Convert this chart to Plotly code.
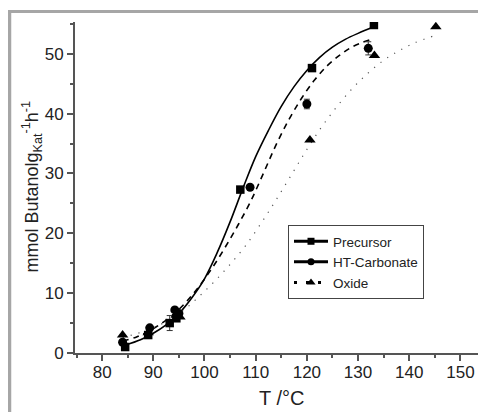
import plotly.graph_objects as go

# ---- data ----
prec_T = [84.5, 89.0, 93.2, 94.5, 107.0, 121.0, 133.1]
prec_y = [1.0, 3.0, 5.0, 5.8, 27.3, 47.6, 54.8]
prec_err = [0.3, 0.3, 1.25, 0.3, 0.4, 0.4, 0.3]

htc_T = [84.0, 89.3, 94.2, 95.0, 108.9, 120.0, 132.0]
htc_y = [1.8, 4.2, 7.2, 6.6, 27.7, 41.6, 50.9]
htc_err = [0.3, 0.3, 0.3, 0.3, 0.3, 0.8, 1.1]

oxi_T = [84.0, 89.0, 94.5, 95.2, 120.6, 133.2, 145.2]
oxi_y = [3.0, 3.4, 6.3, 6.0, 35.6, 49.7, 54.5]

fit_prec_T = [84.5, 87.5, 90, 92.5, 95, 97.5, 100, 102.5, 105, 107.5, 110, 112.5, 115, 117.5, 120, 122.5, 125, 127.5, 130, 133.1]
fit_prec_y = [1.3, 2.2, 3.3, 4.7, 6.6, 9.2, 12.4, 16.8, 21.9, 27.5, 32.8, 37.2, 41.2, 44.5, 47.2, 49.4, 51.1, 52.4, 53.4, 54.5]

fit_htc_T = [84, 86.5, 89, 91.5, 94, 96.5, 99, 101.5, 104, 106.5, 109, 111.5, 114, 116.5, 119, 121.5, 124, 126.5, 129, 132.2]
fit_htc_y = [2.0, 2.6, 3.6, 4.9, 6.5, 8.6, 11.2, 14.2, 17.6, 21.3, 25.3, 30.0, 34.8, 39.0, 42.6, 45.6, 48.0, 49.8, 51.2, 52.3]

fit_oxi_T = [84, 87, 90, 93, 96, 99, 102, 105, 108, 111, 114, 117, 120, 123, 126, 129, 132, 135, 138, 141, 144.9]
fit_oxi_y = [2.6, 3.3, 4.2, 5.5, 7.2, 9.5, 12.0, 14.8, 17.9, 21.6, 25.6, 29.8, 34.0, 37.9, 41.3, 44.3, 46.8, 48.9, 50.5, 51.8, 53.0]

x_ticks = [80, 90, 100, 110, 120, 130, 140, 150]
y_ticks = [0, 10, 20, 30, 40, 50]
names = ["Precursor", "HT-Carbonate", "Oxide"]

FONT = "Arial, Liberation Sans, sans-serif"

# page has an 8px body margin; figure is sized to fit the 486x412 window
W, H = 478, 404
ML, MT, MB = 67, 14, 59
PL, PT = 8 + ML, 8 + MT          # plot-area top-left in page pixels
PW, PH = 486 - PL, (8 + H - MB) - PT

def px_x(p):
    return (p - PL) / PW

def px_y(p):
    return (PT + PH - p) / PH

fig = go.Figure()

# fit curves
fig.add_trace(go.Scatter(x=fit_prec_T, y=fit_prec_y, mode="lines", line=dict(color="black", width=1.6, shape="spline"),
                         showlegend=False, hoverinfo="skip"))
fig.add_trace(go.Scatter(x=fit_htc_T, y=fit_htc_y, mode="lines", line=dict(color="black", width=1.6, dash="6px,5px", shape="spline"),
                         showlegend=False, hoverinfo="skip"))
fig.add_trace(go.Scatter(x=fit_oxi_T, y=fit_oxi_y, mode="lines", line=dict(color="#555", width=1.2, dash="1.2px,7px", shape="spline"),
                         showlegend=False, hoverinfo="skip"))

# data markers
fig.add_trace(go.Scatter(x=oxi_T, y=oxi_y, mode="markers", marker=dict(symbol="triangle-up", size=10, color="black"),
                         showlegend=False))
fig.add_trace(go.Scatter(x=htc_T, y=htc_y, mode="markers", marker=dict(symbol="circle", size=9, color="black"),
                         error_y=dict(type="data", array=htc_err, color="#333", thickness=1, width=3),
                         showlegend=False))
fig.add_trace(go.Scatter(x=prec_T, y=prec_y, mode="markers", marker=dict(symbol="square", size=8.5, color="black"),
                         error_y=dict(type="data", array=prec_err, color="#333", thickness=1, width=3),
                         showlegend=False))

# legend entries
fig.add_trace(go.Scatter(x=[None], y=[None], name=names[0], mode="lines+markers",
                         line=dict(color="black", width=3), marker=dict(symbol="square", size=7, color="black")))
fig.add_trace(go.Scatter(x=[None], y=[None], name=names[1], mode="lines+markers",
                         line=dict(color="black", width=3), marker=dict(symbol="circle", size=7, color="black")))
fig.add_trace(go.Scatter(x=[None], y=[None], name=names[2], mode="lines+markers",
                         line=dict(color="black", width=3, dash="3px,9px"), marker=dict(symbol="triangle-up", size=8, color="black")))

axis_common = dict(
    showline=True, linecolor="#555", linewidth=2, showgrid=False, zeroline=False,
    ticks="outside", ticklen=6, tickwidth=1.5, tickcolor="#555",
    tickfont=dict(family=FONT, size=17, color="#222"),
    minor=dict(ticks="outside", ticklen=3, tickwidth=1.5, tickcolor="#555", showgrid=False),
)

fig.update_xaxes(range=[74.7, 155], tickvals=x_ticks, minor_dtick=5, ticklabelstandoff=-3, **axis_common)
fig.update_yaxes(range=[0, 55.3], tickvals=y_ticks, minor_dtick=5, **axis_common)

fig.update_layout(
    width=W, height=H,
    margin=dict(l=ML, r=0, t=MT, b=MB),
    paper_bgcolor="white", plot_bgcolor="white",
    font=dict(family=FONT, color="#222"),
    legend=dict(x=px_x(288), y=px_y(225), xanchor="left", yanchor="top",
                bordercolor="#444", borderwidth=1, bgcolor="white",
                font=dict(family=FONT, size=13.5, color="#222"),
                tracegroupgap=0, itemwidth=34),
    annotations=[
        dict(text="mmol Butanolg<sub>Kat</sub><sup>-1</sup>h<sup>-1</sup>", textangle=-90,
             xref="paper", yref="paper", x=px_x(32), y=0.5, xanchor="center", yanchor="middle",
             showarrow=False, font=dict(family=FONT, size=18, color="#222")),
        dict(text="T /°C", xref="paper", yref="paper", x=px_x(281), y=px_y(398),
             xanchor="center", yanchor="middle", showarrow=False,
             font=dict(family=FONT, size=20, color="#222")),
    ],
    shapes=[
        dict(type="line", xref="paper", yref="paper", x0=px_x(8), x1=1.05,
             y0=px_y(11.5), y1=px_y(11.5), line=dict(color="#a6a6a6", width=3)),
        dict(type="line", xref="paper", yref="paper", x0=px_x(9.5), x1=px_x(9.5),
             y0=px_y(10), y1=px_y(420), line=dict(color="#a6a6a6", width=3.5)),
    ],
)

fig.write_html("out.html")
